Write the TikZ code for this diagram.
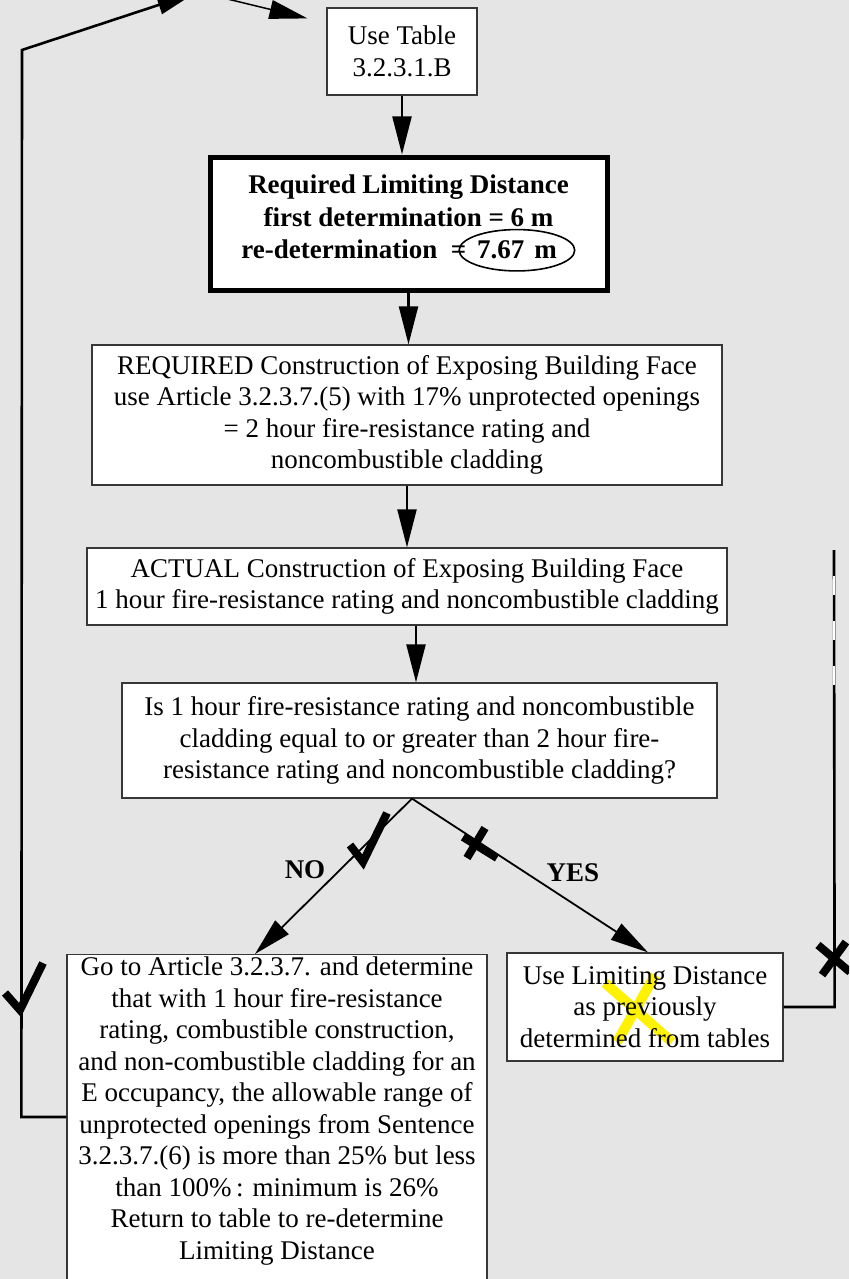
\documentclass[tikz,border=0pt]{standalone}
\usepackage{fontspec}
\setmainfont{Liberation Serif}
\usetikzlibrary{arrows.meta,shapes.geometric,calc}
\pgfdeclarelayer{bg}\pgfdeclarelayer{mid}\pgfsetlayers{bg,mid,main}
\definecolor{bggray}{RGB}{229,229,229}
\definecolor{edge}{RGB}{55,55,55}
\begin{document}
\begin{tikzpicture}[x=1pt,y=-1pt,
  font=\fontsize{27}{31.5}\selectfont,
  box/.style={draw=edge, line width=1.2pt, fill=white, align=center, inner sep=0pt},
  arr/.style={-{Triangle[length=38pt,width=19pt]}, line width=2.2pt},
  thinarr/.style={-{Triangle[length=38pt,width=19pt]}, line width=1.8pt},
  tickmk/.style={line width=8pt, line join=miter},
  lbl/.style={font=\fontsize{27}{31.5}\selectfont\bfseries, inner sep=0pt}]
\useasboundingbox (0,0) rectangle (849,1279);
\clip (0,0) rectangle (849,1279);
\begin{pgfonlayer}{bg}\fill[bggray] (0,0) rectangle (849,1279);\end{pgfonlayer}

\node[box, minimum width=150pt, minimum height=87pt] (tab) at (402,51.5) {Use Table\\3.2.3.1.B};

\node[box, draw=black, line width=5pt, minimum width=397pt, minimum height=133pt,
  font=\fontsize{27}{32.5}\selectfont\bfseries] (req) at (408.5,223.5)
  {Required Limiting Distance\\first determination = 6 m\\re-determination~ =\hspace{-8pt}\tikz[baseline=(e.base)]\node[draw=black,ellipse,line width=1.6pt,inner xsep=1pt,inner ysep=5.5pt,minimum width=0pt,minimum height=0pt,fill=none,anchor=base,font=\fontsize{27}{32.5}\selectfont\bfseries](e){7.67\hspace{10pt}m};};

\node[box, minimum width=630pt, minimum height=140pt] (rq) at (407,415)
  {REQUIRED Construction of Exposing Building Face\\use Article 3.2.3.7.(5) with 17\% unprotected openings\\= 2 hour fire-resistance rating and\\noncombustible cladding};

\node[box, minimum width=640pt, minimum height=77pt] (act) at (407,586.5)
  {ACTUAL Construction of Exposing Building Face\\1 hour fire-resistance rating and noncombustible cladding};

\node[box, minimum width=595pt, minimum height=115pt] (q) at (419.5,740.5)
  {Is 1 hour fire-resistance rating and noncombustible\\cladding equal to or greater than 2 hour fire-\\resistance rating and noncombustible cladding?};

\node[box, anchor=north, minimum width=420pt, minimum height=345pt] (nobox) at (277,954) {};
\node[align=center, inner sep=0pt] (notext) at (277,1111)
  {Go to Article 3.2.3.7. and determine\\that with 1 hour fire-resistance\\rating, combustible construction,\\and non-combustible cladding for an\\E occupancy, the allowable range of\\unprotected openings from Sentence\\3.2.3.7.(6) is more than 25\% but less\\than 100\%\,: minimum is 26\%\\Return to table to re-determine\\Limiting Distance};

\node[box, fill=none, minimum width=276pt, minimum height=108pt] (yes) at (645,1007)
  {Use Limiting Distance\\as previously\\determined from tables};
\begin{pgfonlayer}{mid}
  \fill[white] (yes.north west) rectangle (yes.south east);
  \draw[yellow, line width=10pt] (605,983) -- (672,1042);
  \draw[yellow, line width=10pt] (655,975) -- (617,1042);
\end{pgfonlayer}

% vertical flow
\draw[arr] (tab.south) -- (tab.south |- req.north);
\draw[arr] (req.south) -- (req.south |- rq.north);
\draw[arr] (rq.south) -- (act.north);
\draw[arr] ([xshift=9pt]act.south) -- ([xshift=9pt]act.south |- q.north);

% decision split
\coordinate (sp) at ([xshift=-7.5pt]q.south);
\draw[thinarr] (sp) -- ([xshift=-22pt]nobox.north);
\draw[thinarr] (sp) -- ([xshift=3pt]yes.north);
\node[lbl] (nolab) at (305,870) {NO};
\node[lbl] (yeslab) at (573,873) {YES};
\draw[tickmk] (350,845) -- (363,862) -- (387,813);
\draw[tickmk] (463,837) -- (497,858);
\draw[tickmk] (485,828) -- (467,858);

% left return loop
\draw[arr, line width=2.6pt] ($(nobox.north west)+(0,163)$) -- ++(-45,0) -- (22,50) -- (195,-7);
\draw[arr, line width=1.5pt] (215,-4) -- ($(tab.north west)+(-19,11)$);
\draw[tickmk] (5,993) -- (20,1010) -- (43,963);

% right connector
\draw[line width=2.6pt] (yes.east) -- ++(51,0) -- (834,550);
\draw[white, line width=2.6pt, dash pattern=on 19pt off 26pt] (834,576) -- (834,686);
\draw[tickmk] (818,945) -- (850,972);
\draw[tickmk] (822,975) -- (846,942);
\end{tikzpicture}
\end{document}
